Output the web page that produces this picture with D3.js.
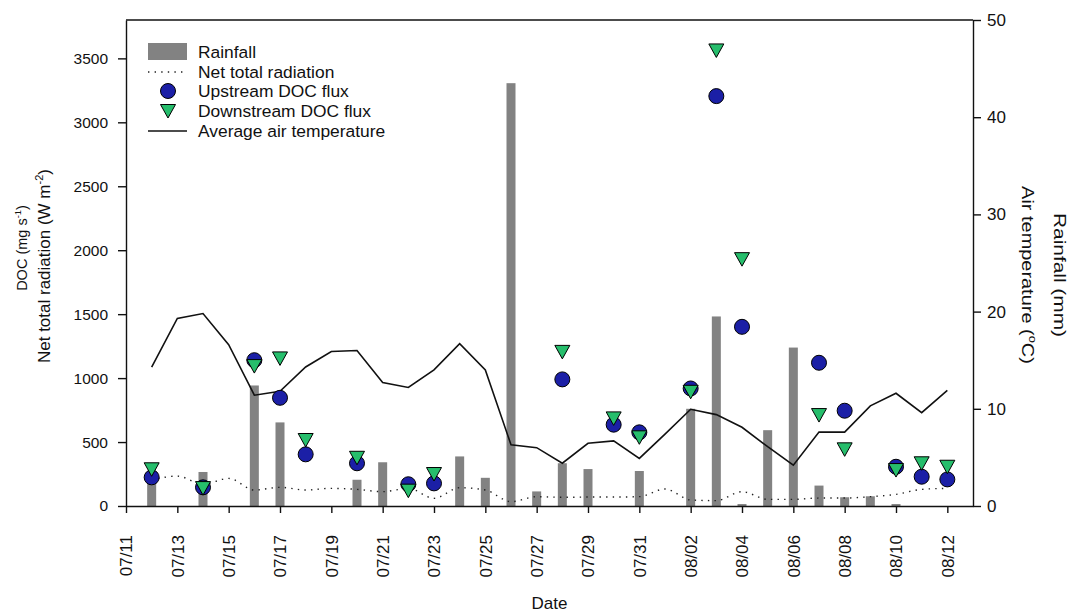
<!DOCTYPE html>
<html>
<head>
<meta charset="utf-8">
<script src="https://cdn.jsdelivr.net/npm/d3@7"></script>
<style>
body { margin: 0; background: #fff; }
text { font-family: "Liberation Sans", Arial, sans-serif; fill: #111; }
</style>
</head>
<body>
<div id="viz"></div>
<script>
// daily series, 07/12 .. 08/12
var days = ["07/12","07/13","07/14","07/15","07/16","07/17","07/18","07/19","07/20","07/21",
    "07/22","07/23","07/24","07/25","07/26","07/27","07/28","07/29","07/30","07/31",
    "08/01","08/02","08/03","08/04","08/05","08/06","08/07","08/08","08/09","08/10","08/11","08/12"];
var rainfall = [2.6, 0, 3.5, 0, 12.4, 8.6, 0, 0, 2.7, 4.5,
    0, 0, 5.1, 2.9, 43.5, 1.5, 4.4, 3.8, 0, 3.6,
    0, 10.0, 19.5, 0.2, 7.8, 16.3, 2.1, 0.9, 1.0, 0.2, 0, 0];
var airTemp = [14.3, 19.3, 19.8, 16.6, 11.4, 11.8, 14.3, 15.9, 16.0, 12.7,
    12.2, 14.0, 16.7, 14.0, 6.3, 6.0, 4.4, 6.45, 6.7, 4.9,
    7.4, 9.95, 9.4, 8.1, 6.1, 4.2, 7.6, 7.6, 10.3, 11.6, 9.6, 11.9];
var radiation = [203, 234, 170, 216, 125, 146, 125, 138, 130, 112,
    138, 60, 143, 125, 34, 73, 68, 70, 70, 73,
    133, 47, 42, 112, 52, 52, 62, 62, 73, 91, 130, 138];

// DOC sampling days
var docDates = ["07/12","07/14","07/16","07/17","07/18","07/20","07/22","07/23","07/28","07/30",
    "07/31","08/02","08/03","08/04","08/07","08/08","08/10","08/11","08/12"];
var upstreamDoc = [224, 146, 1140, 846, 404, 334, 170, 177, 990, 636,
    576, 919, 3205, 1401, 1120, 745, 307, 229, 208];
var downstreamDoc = [287, 140, 1094, 1154, 516, 377, 120, 250, 1205, 685,
    537, 893, 3562, 1930, 711, 443, 281, 334, 307];

var xTickLabels = ["07/11","07/13","07/15","07/17","07/19","07/21","07/23","07/25","07/27","07/29",
    "07/31","08/02","08/04","08/06","08/08","08/10","08/12"];
var leftTicks = [0, 500, 1000, 1500, 2000, 2500, 3000, 3500];
var rightTicks = [0, 10, 20, 30, 40, 50];

var W = 1072, H = 615;
var padL = 126, padR = 973, padT = 20, padB = 506;
var blue = "#1b1fa6", green = "#26be6c", grey = "#828282";

var parse = function(s){ return d3.timeParse("%Y/%m/%d")("2013/" + s); };

var svg = d3.select("#viz").append("svg")
    .attr("width", W)
    .attr("height", H);

var x = d3.scaleTime()
    .domain([parse("07/11"), parse("08/13")])
    .range([padL, padR]);
var yL = d3.scaleLinear().domain([0, 3800]).range([padB, padT]);
var yR = d3.scaleLinear().domain([0, 50]).range([padB, padT]);

// rainfall bars
svg.append("g").selectAll("rect")
    .data(days.map(function(d, i){ return {d: parse(d), v: rainfall[i]}; }).filter(function(o){ return o.v > 0; }))
    .enter().append("rect")
    .attr("x", function(o){ return x(o.d) - 4.5; })
    .attr("width", 9)
    .attr("y", function(o){ return yR(o.v); })
    .attr("height", function(o){ return yR(0) - yR(o.v); })
    .style("fill", grey);

// net radiation, dotted
var radLine = d3.line()
    .x(function(d, i){ return x(parse(days[i])); })
    .y(function(d){ return yL(d); })
    .curve(d3.curveMonotoneX);
svg.append("path")
    .attr("d", radLine(radiation))
    .style("fill", "none")
    .style("stroke", "#222")
    .style("stroke-width", 1.4)
    .style("stroke-dasharray", "1.4,5.2");

// air temperature
var tempLine = d3.line()
    .x(function(d, i){ return x(parse(days[i])); })
    .y(function(d){ return yR(d); });
svg.append("path")
    .attr("d", tempLine(airTemp))
    .style("fill", "none")
    .style("stroke", "#111")
    .style("stroke-width", 1.6);

var tri = "M-7.5,-6.5L7.5,-6.5L0,7Z";

// upstream circles
svg.append("g").selectAll("circle")
    .data(upstreamDoc)
    .enter().append("circle")
    .attr("cx", function(d, i){ return x(parse(docDates[i])); })
    .attr("cy", function(d){ return yL(d); })
    .attr("r", 7.5)
    .style("fill", blue)
    .style("stroke", "#000")
    .style("stroke-width", 1);

// downstream triangles
svg.append("g").selectAll("path")
    .data(downstreamDoc)
    .enter().append("path")
    .attr("d", tri)
    .attr("transform", function(d, i){ return "translate(" + x(parse(docDates[i])) + "," + yL(d) + ")"; })
    .style("fill", green)
    .style("stroke", "#000")
    .style("stroke-width", 1);

// axes
var xAxis = svg.append("g")
    .attr("transform", "translate(0," + padB + ")")
    .call(d3.axisBottom(x)
        .tickValues(xTickLabels.map(parse))
        .tickFormat(d3.timeFormat("%m/%d"))
        .tickSize(7)
        .tickSizeOuter(0));
xAxis.selectAll("text")
    .attr("transform", "rotate(-90)")
    .attr("text-anchor", "end")
    .attr("x", -29)
    .attr("y", 0)
    .attr("dy", "0.35em")
    .style("font-size", "17px");

var lAxis = svg.append("g")
    .attr("transform", "translate(" + padL + ",0)")
    .call(d3.axisLeft(yL).tickValues(leftTicks).tickFormat(d3.format("d")).tickSize(8).tickSizeOuter(0).tickPadding(10));
lAxis.selectAll("text").style("font-size", "15.5px");

var rAxis = svg.append("g")
    .attr("transform", "translate(" + padR + ",0)")
    .call(d3.axisRight(yR).tickValues(rightTicks).tickSize(8).tickSizeOuter(0).tickPadding(6));
rAxis.selectAll("text").style("font-size", "17px");

svg.selectAll(".domain, .tick line").style("stroke", "#111").style("stroke-width", 1.4);

svg.append("line")
    .attr("x1", padL).attr("x2", padR)
    .attr("y1", padT).attr("y2", padT)
    .style("stroke", "#111").style("stroke-width", 1.4);

// axis titles
svg.append("text")
    .attr("x", (padL + padR) / 2).attr("y", 609)
    .attr("text-anchor", "middle")
    .style("font-size", "17px")
    .text("Date");

function sup(t, base, s, rest, fs){
    t.append("tspan").text(base);
    t.append("tspan").attr("dy", -fs * 0.4).style("font-size", (fs * 0.65) + "px").text(s);
    t.append("tspan").attr("dy", fs * 0.4).text(rest);
}

// rotated title; len (optional) stretches it along its run
function title(cx, cy, rot, fs, len, base, s, rest){
    var g = svg.append("g").attr("transform", "translate(" + cx + "," + cy + ") rotate(" + rot + ")");
    var t = g.append("text")
        .attr("text-anchor", "middle").attr("dy", "0.35em")
        .style("font-size", fs + "px");
    if (s) sup(t, base, s, rest, fs); else t.text(base);
    if (len) {
        var k = len / t.node().getComputedTextLength();
        t.attr("transform", "scale(" + k + ",1)");
    }
}

title(22, 248, -90, 14.5, 0, "DOC (mg s", "-1", ")");
title(44, 266, -90, 17, 0, "Net total radiation (W m", "-2", ")");
title(1028, 275, 90, 17, 178, "Air temperature (", "o", "C)");
title(1060, 275, 90, 17, 124, "Rainfall (mm)");

// legend
var lg = svg.append("g");
var lgY = [52, 72, 91, 111, 131];
var lgText = ["Rainfall", "Net total radiation", "Upstream DOC flux", "Downstream DOC flux", "Average air temperature"];
lg.append("rect").attr("x", 148).attr("y", lgY[0] - 9).attr("width", 39).attr("height", 17).style("fill", grey);
lg.append("line").attr("x1", 148).attr("x2", 187).attr("y1", lgY[1]).attr("y2", lgY[1])
    .style("stroke", "#222").style("stroke-width", 1.4).style("stroke-dasharray", "1.4,5.2");
lg.append("circle").attr("cx", 168).attr("cy", lgY[2]).attr("r", 7.5)
    .style("fill", blue).style("stroke", "#000");
lg.append("path").attr("d", tri).attr("transform", "translate(168," + lgY[3] + ")")
    .style("fill", green).style("stroke", "#000");
lg.append("line").attr("x1", 148).attr("x2", 187).attr("y1", lgY[4]).attr("y2", lgY[4])
    .style("stroke", "#111").style("stroke-width", 1.6);
lg.selectAll("text.lab").data(lgText).enter().append("text")
    .attr("class", "lab")
    .attr("x", 198)
    .attr("y", function(d, i){ return lgY[i]; })
    .attr("dy", "0.35em")
    .style("font-size", "17.4px")
    .text(function(d){ return d; });
</script>
</body>
</html>
